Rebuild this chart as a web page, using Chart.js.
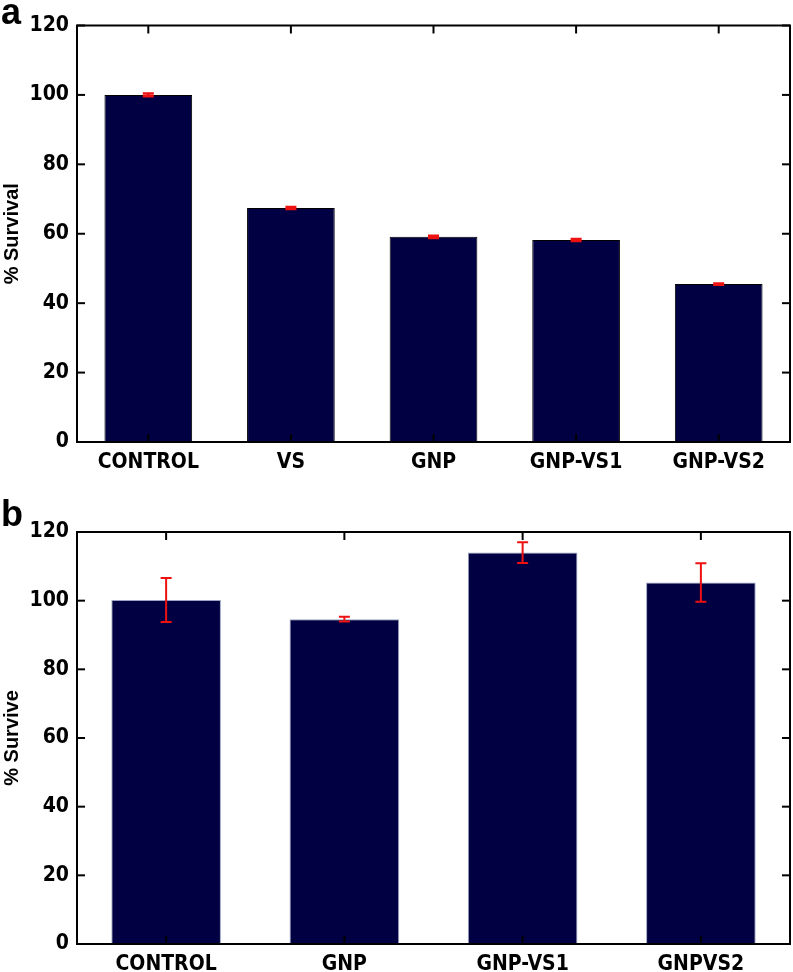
<!DOCTYPE html>
<html>
<head>
<meta charset="utf-8">
<script src="https://cdn.jsdelivr.net/npm/chart.js@4.4.1/dist/chart.umd.min.js"></script>
<style>
  html, body { margin: 0; padding: 0; background: #fff; }
  body { width: 793px; height: 972px; position: relative; overflow: hidden; }
  .panel { position: absolute; left: 0; width: 793px; }
  #wrapA { top: 0; height: 480px; }
  #wrapB { top: 480px; height: 492px; }
  .letter { position: absolute; font-family: "Liberation Sans", Arial, sans-serif; font-weight: bold; font-size: 36px; line-height: 1; color: #000; }
</style>
</head>
<body>
<div class="panel" id="wrapA"><canvas id="chartA" width="793" height="480"></canvas></div>
<div class="panel" id="wrapB"><canvas id="chartB" width="793" height="492"></canvas></div>
<div class="letter" style="left:1px; top:-6px;">a</div>
<div class="letter" style="left:1px; top:496px;">b</div>
<script>
// ---- Data ----
const panelA_categories = ["CONTROL", "VS", "GNP", "GNP-VS1", "GNP-VS2"];
const panelA_values = [100, 67.4, 59.1, 58.2, 45.5];
const panelA_errors = [0.4, 0.3, 0.3, 0.3, 0.2];
const panelA_title = "% Survival";

const panelB_categories = ["CONTROL", "GNP", "GNP-VS1", "GNPVS2"];
const panelB_values = [100.2, 94.6, 114.0, 105.3];
const panelB_errors = [6.4, 0.7, 3.0, 5.6];
const panelB_title = "% Survive";

const yMin = 0, yMax = 120, yStep = 20;

const tickFont = { family: "'Liberation Sans Narrow', 'DejaVu Sans Condensed', 'Liberation Sans', sans-serif", weight: "bold", size: 21 };
const titleFont = { family: "'Liberation Sans', Arial, sans-serif", weight: "bold", size: 20 };

const framePlugin = {
  id: "frame",
  afterDatasetsDraw(chart, args, opts) {
    const { ctx, chartArea: a, scales: { x, y } } = chart;
    ctx.save();
    // error bars
    const meta = chart.getDatasetMeta(0);
    const vals = chart.data.datasets[0].data;
    ctx.strokeStyle = opts.errColor;
    ctx.lineWidth = opts.errWidth;
    const cap = opts.cap;
    meta.data.forEach((bar, i) => {
      const v = vals[i], e = opts.errors[i];
      const xc = bar.x;
      const y1 = y.getPixelForValue(v + e), y2 = y.getPixelForValue(v - e);
      ctx.beginPath();
      ctx.moveTo(xc, y1); ctx.lineTo(xc, y2);
      ctx.moveTo(xc - cap, y1); ctx.lineTo(xc + cap, y1);
      ctx.moveTo(xc - cap, y2); ctx.lineTo(xc + cap, y2);
      ctx.stroke();
    });
    // box
    ctx.strokeStyle = "#000";
    ctx.lineWidth = 2;
    ctx.strokeRect(a.left, a.top, a.width, a.height);
    // inward ticks
    const line = (x1, y1, x2, y2) => { ctx.beginPath(); ctx.moveTo(x1, y1); ctx.lineTo(x2, y2); ctx.stroke(); };
    y.ticks.forEach(t => {
      const py = y.getPixelForValue(t.value);
      line(a.left, py, a.left + 8, py);
      line(a.right, py, a.right - 8, py);
    });
    x.ticks.forEach((t, i) => {
      const px = x.getPixelForTick(i);
      line(px, a.top, px, a.top + 8);
      line(px, a.bottom, px, a.bottom - 8);
    });
    ctx.restore();
  }
};

function makeChart(id, cats, vals, errs, title, padTop, xHeight, barBorder, errWidth) {
  return new Chart(document.getElementById(id), {
    type: "bar",
    data: {
      labels: cats,
      datasets: [{
        data: vals,
        backgroundColor: "#000042",
        borderColor: barBorder,
        borderWidth: 1,
        barPercentage: 0.615,
        categoryPercentage: 1.0
      }]
    },
    options: {
      responsive: false,
      animation: false,
      events: [],
      layout: { padding: { top: padTop, right: 3, left: 0, bottom: 0 } },
      plugins: {
        legend: { display: false },
        tooltip: { enabled: false },
        frame: { errors: errs, errColor: "#ee1111", errWidth: errWidth, cap: 5.5 }
      },
      scales: {
        x: {
          grid: { display: false, drawTicks: false },
          border: { display: false },
          ticks: { color: "#000", font: tickFont, padding: 8, maxRotation: 0, autoSkip: false },
          afterFit(s) { s.height = xHeight; }
        },
        y: {
          min: yMin, max: yMax,
          grid: { display: false, drawTicks: false },
          border: { display: false },
          ticks: { stepSize: yStep, color: "#000", font: tickFont, padding: 8 },
          title: { display: true, text: title, color: "#000", font: titleFont, padding: 0 },
          afterFit(s) { s.width = 77; }
        }
      }
    },
    plugins: [framePlugin]
  });
}

makeChart("chartA", panelA_categories, panelA_values, panelA_errors, panelA_title, 25.5, 38, "#000", 2.5);
makeChart("chartB", panelB_categories, panelB_values, panelB_errors, panelB_title, 52, 28, "#9aa3c0", 2);
</script>
</body>
</html>
